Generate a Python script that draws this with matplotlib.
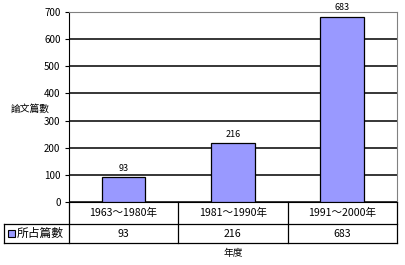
import matplotlib.pyplot as plt
from matplotlib.patches import Rectangle

plt.rcParams['font.family'] = ['Noto Sans CJK TC', 'DejaVu Sans']

# data
periods = ['1963～1980年', '1981～1990年', '1991～2000年']
counts = [93, 216, 683]
series_name = '所占篇數'
y_label = '論文篇數'
x_label = '年度'

bar_color = '#9999FF'

fig = plt.figure(figsize=(4.05, 2.65), dpi=100)
ax = fig.add_axes([0.170, 0.2377, 0.810, 0.717])

x = list(range(len(periods)))
ax.bar(x, counts, width=0.4, color=bar_color, edgecolor='black', linewidth=0.9, zorder=3)
for xi, v in zip(x, counts):
    ax.annotate(str(v), (xi, v), xytext=(0, 3), textcoords='offset points',
                ha='center', va='bottom', fontsize=6.5)

ax.set_xlim(-0.5, len(periods) - 0.5)
ax.set_ylim(0, 700)
ax.set_yticks(range(0, 701, 100))
ax.yaxis.grid(True, color='black', linewidth=1.1, zorder=0)
ax.tick_params(axis='y', labelsize=7, length=3, width=0.8, pad=3)
ax.tick_params(axis='x', bottom=False, labelbottom=False)
for side in ['top', 'right']:
    ax.spines[side].set_color('#808080')
ax.spines['left'].set_color('black')
ax.spines['bottom'].set_color('black')

ax.set_ylabel(y_label, rotation=0, fontsize=7, ha='center', va='center')
ax.yaxis.set_label_coords(-0.119, 0.489)

# data table under the plot
trans = ax.get_xaxis_transform()
row1, row2 = -0.116, -0.216
left_cell = -0.5 - 65 / 109
right = len(periods) - 0.5
lw = 0.9
kw = dict(transform=trans, color='black', linewidth=lw, clip_on=False)
ax.plot([-0.5, -0.5], [0, row2], **kw)
ax.plot([right, right], [0, row2], **kw)
for b in range(1, len(periods)):
    ax.plot([b - 0.5, b - 0.5], [0, row2], **kw)
ax.plot([left_cell, right], [row1, row1], **kw)
ax.plot([left_cell, right], [row2, row2], **kw)
ax.plot([left_cell, left_cell], [row1, row2], **kw)

for xi, p, v in zip(x, periods, counts):
    ax.text(xi, row1 / 2, p, transform=trans, ha='center', va='center', fontsize=7.6)
    ax.text(xi, (row1 + row2) / 2, str(v), transform=trans, ha='center', va='center', fontsize=7.6)

ax.add_patch(Rectangle((left_cell + 0.037, (row1 + row2) / 2 - 0.019), 0.064, 0.037,
                       transform=trans, facecolor=bar_color, edgecolor='black',
                       linewidth=0.8, clip_on=False))
ax.text(left_cell + 0.12, (row1 + row2) / 2, series_name, transform=trans,
        ha='left', va='center', fontsize=8.5)

ax.text(1, -0.268, x_label, transform=trans, ha='center', va='center', fontsize=7)

fig.savefig('out.png', dpi=100)
